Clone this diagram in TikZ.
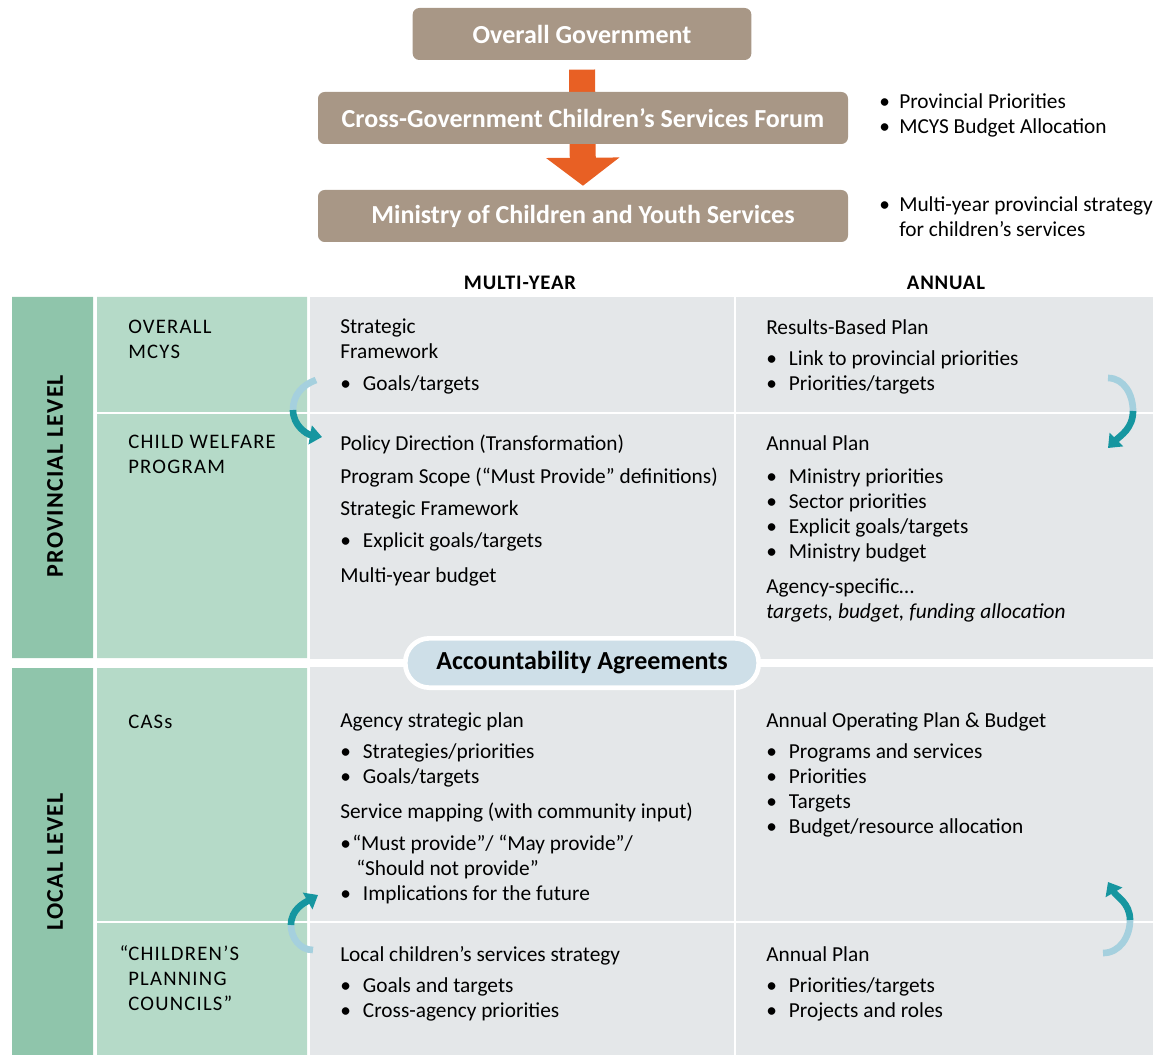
\documentclass[tikz,border=0pt]{standalone}
\usepackage{fontspec}
\setmainfont{Carlito}
\usetikzlibrary{arrows.meta,backgrounds}
\definecolor{govbrown}{RGB}{168,151,134}
\definecolor{flowred}{RGB}{232,96,36}
\definecolor{sidegreen}{RGB}{143,197,171}
\definecolor{rowgreen}{RGB}{181,218,200}
\definecolor{cellgray}{RGB}{228,231,233}
\definecolor{pillblue}{RGB}{206,223,232}
\definecolor{cycteal}{RGB}{22,150,160}
\definecolor{cycfade}{RGB}{165,208,222}
\newcommand{\bl}{\makebox[17pt][l]{\textbullet}}
\begin{document}
\begin{tikzpicture}[x=0.75pt,y=-0.75pt,
    gov/.style={rounded corners=5pt,fill=govbrown,text=white,inner sep=0pt,
      minimum height=39pt,font=\fontsize{19.5}{22}\selectfont\bfseries},
    flow/.style={draw=flowred,line width=19.5pt,-{Triangle[length=21pt,width=54pt]},
      shorten <=7pt,shorten >=3pt},
    cell/.style={anchor=north west,align=left,inner sep=0pt,
      font=\fontsize{16}{18.75}\selectfont,execute at begin node=\strut},
    caps/.style={cell,font=\fontsize{15.5}{18.75}\selectfont\addfontfeature{LetterSpace=6}},
    head/.style={font=\fontsize{15.5}{18}\selectfont\bfseries\addfontfeature{LetterSpace=4}},
    lvl/.style={rotate=90,font=\fontsize{18}{20}\selectfont\bfseries\addfontfeature{LetterSpace=5}},
    cyc/.style={draw=cycteal,line width=5pt,-{Triangle[length=9pt,width=14pt]}},
    fade/.style={draw=cycfade,line width=5pt}]
  \useasboundingbox (0,0) rectangle (1153,1055);

  % government chain
  \node[gov,minimum width=254pt] (gov) at (582,34) {Overall Government};
  \node[gov,minimum width=397.5pt] (forum) at (583,118) {Cross-Government Children’s Services Forum};
  \node[gov,minimum width=397.5pt] (ministry) at (583,216) {Ministry of Children and Youth Services};
  \begin{scope}[on background layer]
    \draw[flow] (gov.south) -- (ministry.north);
  \end{scope}
  \node[cell] (prio) at (879,93.5) {\makebox[15pt][l]{\textbullet}Provincial Priorities\\
    \makebox[15pt][l]{\textbullet}MCYS Budget Allocation};
  \node[cell] (strat) at (879,196.5) {\makebox[15pt][l]{\textbullet}Multi-year provincial strategy\\
    \hspace*{15pt}for children's services};

  % grid
  \fill[sidegreen] (12,297) rectangle (93,658) (12,668) rectangle (93,1055);
  \fill[rowgreen] (97,297) rectangle (307,658) (97,668) rectangle (307,1055);
  \fill[cellgray] (310,297) rectangle (1153,1055);
  \draw[white,line width=5.5pt] (0,663) -- (1153,663);
  \draw[white,line width=2pt] (97,413) -- (1153,413) (97,922) -- (1153,922);
  \draw[white,line width=1.5pt] (735,297) -- (735,1055);

  \node[head] (multi) at (520,283) {MULTI-YEAR};
  \node[head] (annual) at (946,283) {ANNUAL};
  \node[lvl] (provlvl) at (55,476) {PROVINCIAL LEVEL};
  \node[lvl] (loclvl) at (55,862) {LOCAL LEVEL};

  \node[caps] (mcys) at (128,320) {OVERALL\\MCYS};
  \node[caps] (cwp) at (128,435) {CHILD WELFARE\\PROGRAM};
  \node[caps] (cas) at (128,711) {CASs};
  \node[caps] (cpc) at (128,945) {\llap{“}CHILDREN’S\\PLANNING\\COUNCILS”};

  \node[cell] (mcysmy) at (340,319) {Strategic\\Framework\\[5pt]\bl Goals/targets};
  \node[cell] (mcysan) at (766,319) {Results-Based Plan\\[4.5pt]\bl Link to provincial priorities\\
    \bl Priorities/targets};
  \node[cell] (cwpmy) at (340,435) {Policy Direction (Transformation)\\[6pt]
    Program Scope (“Must Provide” definitions)\\[5pt]Strategic Framework\\[5pt]
    \bl Explicit goals/targets\\[8pt]Multi-year budget};
  \node[cell] (cwpan) at (766,435) {Annual Plan\\[6pt]\bl Ministry priorities\\\bl Sector priorities\\
    \bl Explicit goals/targets\\\bl Ministry budget\\[7.5pt]Agency-specific…\\
    \textit{targets, budget, funding allocation}};
  \node[cell] (casmy) at (340,712) {Agency strategic plan\\[5pt]\bl Strategies/priorities\\
    \bl Goals/targets\\[7.5pt]Service mapping (with community input)\\[5pt]
    \makebox[9pt][l]{\textbullet}“Must provide”/ “May provide”/\\
    \hspace*{12pt}“Should not provide”\\\bl Implications for the future};
  \node[cell] (casan) at (766,712) {Annual Operating Plan \& Budget\\[5pt]\bl Programs and services\\
    \bl Priorities\\\bl Targets\\\bl Budget/resource allocation};
  \node[cell] (cpcmy) at (340,946) {Local children’s services strategy\\[5pt]\bl Goals and targets\\
    \bl Cross-agency priorities};
  \node[cell] (cpcan) at (766,946) {Annual Plan\\[5pt]\bl Priorities/targets\\\bl Projects and roles};

  \node[rounded corners=18pt,fill=pillblue,draw=white,line width=3.5pt,
    minimum width=265pt,minimum height=37pt,font=\fontsize{19.5}{22}\selectfont\bfseries]
    (aa) at (582,663) {Accountability Agreements};

  % cycle arrows
  \coordinate (pl1) at (316,380); \coordinate (pl2) at (293,410); \coordinate (pl3) at (322,437);
  \coordinate (pr1) at (1108,378); \coordinate (pr2) at (1133,411); \coordinate (pr3) at (1108,448);
  \coordinate (ll1) at (313,950); \coordinate (ll2) at (291,925); \coordinate (ll3) at (318,895);
  \coordinate (lr1) at (1103,953); \coordinate (lr2) at (1130,920); \coordinate (lr3) at (1108,882);
  \draw[fade] (pl1) to[out=200,in=90] (pl2);
  \draw[cyc] (pl2) to[out=270,in=170] (pl3);
  \draw[fade] (pr1) to[out=0,in=90] (pr2);
  \draw[cyc] (pr2) to[out=270,in=45] (pr3);
  \draw[fade] (ll1) to[out=180,in=270] (ll2);
  \draw[cyc] (ll2) to[out=90,in=210] (ll3);
  \draw[fade] (lr1) to[out=0,in=270] (lr2);
  \draw[cyc] (lr2) to[out=90,in=300] (lr3);
\end{tikzpicture}
\end{document}
